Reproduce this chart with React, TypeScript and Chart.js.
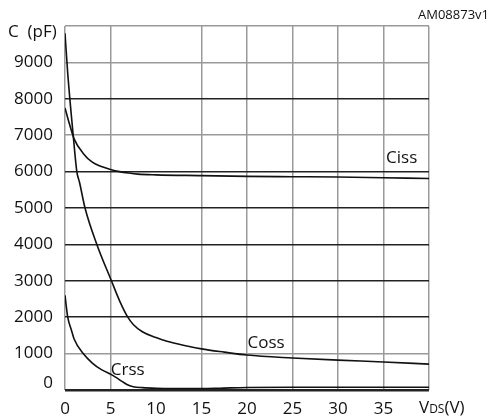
import React, { useEffect, useRef } from "react";
import { Chart, registerables } from "chart.js";

Chart.register(...registerables);

const cissV = [0, 0.5, 1, 2, 3, 4, 5, 6, 7, 8, 10, 15, 20, 25, 30, 35, 40];
const cissC = [7750, 7300, 6900, 6500, 6260, 6140, 6060, 6000, 5960, 5930, 5910, 5890, 5870, 5860, 5850, 5830, 5810];

const cossV = [0, 0.3, 0.9, 1.3, 1.6, 2.2, 3.5, 5.1, 6, 6.9, 7.5, 8.5, 10, 11.2, 13, 15, 17.5, 20, 25, 30, 35, 40];
const cossC = [9800, 8700, 7000, 6000, 5700, 5000, 4000, 3000, 2450, 2000, 1800, 1600, 1440, 1340, 1230, 1130, 1040, 960, 880, 820, 770, 710];

const crssV = [0, 0.3, 0.7, 1, 2, 3, 4, 5.2, 6, 6.8, 7.5, 8.5, 10, 15, 17, 20, 25, 30, 35, 40];
const crssC = [2600, 2000, 1650, 1400, 1000, 740, 560, 410, 280, 150, 90, 65, 50, 40, 50, 70, 75, 75, 75, 75];

const xTicks = [0, 5, 10, 15, 20, 25, 30, 35, 40];
const yTicks = [0, 1000, 2000, 3000, 4000, 5000, 6000, 7000, 8000, 9000, 10000];
const darkYLines = [0, 2000, 3000, 4000, 5000, 6000, 8000];
const hiddenXLines = [10];

const curveLabels = [
  { text: "Ciss", v: 37.0, c: 6370 },
  { text: "Coss", v: 22.1, c: 1290 },
  { text: "Crss", v: 6.9, c: 550 },
];

const FONT = "'Open Sans', 'DejaVu Sans', sans-serif";

const toXY = (xs: number[], ys: number[]) => xs.map((x, i) => ({ x, y: ys[i] }));

const textPlugin = {
  id: "texts",
  afterDraw(chart: any) {
    const ctx = chart.ctx;
    const xs = chart.scales.x;
    const ys = chart.scales.y;
    ctx.save();
    ctx.fillStyle = "#111";
    ctx.textBaseline = "middle";
    ctx.textAlign = "center";
    ctx.font = `17px ${FONT}`;
    curveLabels.forEach((l) => {
      ctx.fillText(l.text, xs.getPixelForValue(l.v), ys.getPixelForValue(l.c));
    });
    // y axis title
    ctx.textAlign = "left";
    ctx.font = `17px ${FONT}`;
    ctx.fillText("C  (pF)", 8, 32);
    // figure id
    ctx.textAlign = "right";
    ctx.font = `13px ${FONT}`;
    ctx.fillText("AM08873v1", 489, 15);
    // x axis title V_DS(V)
    const baseY = 413;
    ctx.textBaseline = "alphabetic";
    ctx.textAlign = "left";
    let x = 419;
    ctx.font = `17px ${FONT}`;
    ctx.fillText("V", x, baseY);
    x += ctx.measureText("V").width;
    ctx.font = `12px ${FONT}`;
    ctx.fillText("DS", x, baseY);
    x += ctx.measureText("DS").width;
    ctx.font = `17px ${FONT}`;
    ctx.fillText("(V)", x, baseY);
    ctx.restore();
  },
};

export default function App() {
  const ref = useRef<HTMLCanvasElement>(null);
  useEffect(() => {
    if (!ref.current) return;
    const mk = (xs: number[], ys: number[], w: number) => ({
      data: toXY(xs, ys),
      borderColor: "#111",
      borderWidth: w,
      pointRadius: 0,
      fill: false,
      showLine: true,
      cubicInterpolationMode: "monotone" as const,
    });
    const chart = new Chart(ref.current, {
      type: "scatter",
      data: {
        datasets: [mk(cissV, cissC, 1.6), mk(cossV, cossC, 1.6), mk(crssV, crssC, 1.6)] as any,
      },
      options: {
        animation: false,
        responsive: false,
        maintainAspectRatio: false,
        layout: { padding: { left: 0, top: 26, right: 61, bottom: 0 } },
        plugins: { legend: { display: false }, tooltip: { enabled: false } },
        scales: {
          x: {
            type: "linear",
            min: 0,
            max: 40,
            afterFit: (s: any) => {
              s.height = 30;
            },
            afterBuildTicks: (s: any) => {
              s.ticks = xTicks.map((v) => ({ value: v }));
            },
            border: { display: false },
            grid: {
              drawTicks: false,
              color: (c: any) =>
                hiddenXLines.includes(c.tick?.value) ? "rgba(0,0,0,0)" : "#9a9a9a",
              lineWidth: 1.5,
            },
            ticks: {
              padding: 9,
              color: "#111",
              font: { family: FONT, size: 17 },
              maxRotation: 0,
              autoSkip: false,
              callback: (v: any) => (v === 40 ? "" : String(v)),
            },
          },
          y: {
            type: "linear",
            min: 0,
            max: 10000,
            afterFit: (s: any) => {
              s.width = 65;
            },
            afterBuildTicks: (s: any) => {
              s.ticks = yTicks.map((v) => ({ value: v }));
            },
            border: { display: false },
            grid: {
              drawTicks: false,
              color: (c: any) =>
                darkYLines.includes(c.tick?.value) ? "#222" : "#9a9a9a",
              lineWidth: (c: any) => (c.tick?.value === 0 ? 2.5 : 1.5),
            },
            ticks: {
              padding: 12,
              color: "#111",
              font: { family: FONT, size: 17, lineHeight: 0.8 },
              autoSkip: false,
              callback: (v: any) => (v === 10000 ? "" : v === 0 ? ["0", ""] : String(v)),
            },
          },
        },
      },
      plugins: [textPlugin],
    });
    return () => chart.destroy();
  }, []);
  return (
    <div style={{ position: "fixed", left: 0, top: 0, width: 490, height: 420, background: "#fff" }}>
      <canvas ref={ref} width={490} height={420} style={{ width: 490, height: 420, display: "block" }} />
    </div>
  );
}
